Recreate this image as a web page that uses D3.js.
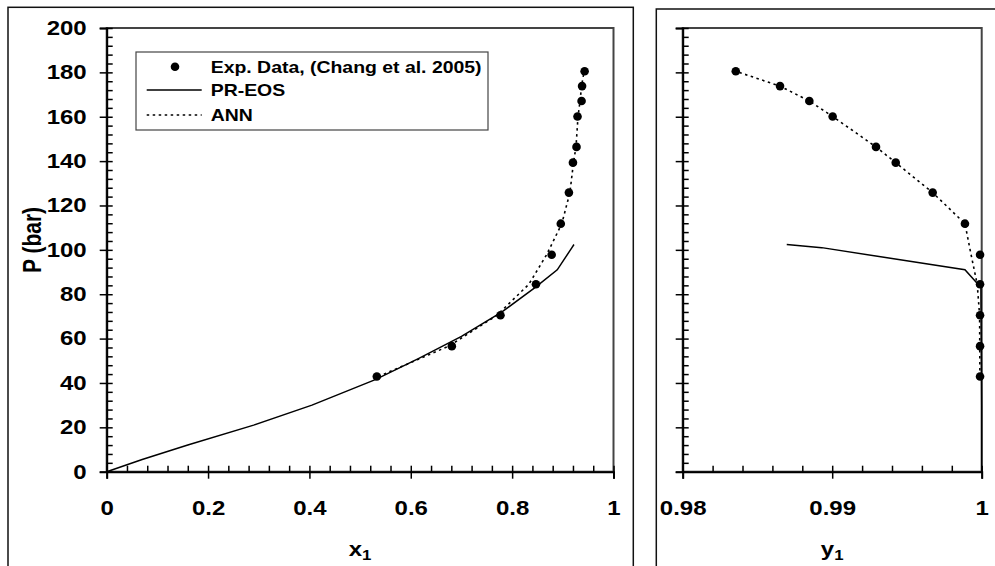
<!DOCTYPE html>
<html>
<head>
<meta charset="utf-8">
<script src="https://cdn.jsdelivr.net/npm/d3@7"></script>
<style>
  body { margin: 0; background: #fff; }
  svg { display: block; font-family: "Liberation Sans", Arial, sans-serif; font-weight: bold; }
</style>
</head>
<body>
<div class="chart-div"></div>
<script>
'use strict';

// Experimental data (Chang et al. 2005)
var expP  = [42.9, 56.6, 70.5, 84.5, 97.8, 111.8, 125.8, 139.3, 146.4, 160.1, 167.1, 173.8, 180.5];
var expX1 = [0.533, 0.681, 0.777, 0.847, 0.878, 0.896, 0.912, 0.920, 0.927, 0.929, 0.937, 0.938, 0.943];
var expY1 = [0.99989, 0.99989, 0.99989, 0.99989, 0.99989, 0.99888, 0.99672, 0.99425, 0.99293, 0.99003, 0.98847, 0.98651, 0.98355];

// ANN predictions at the same pressures
var annX1 = [0.536, 0.675, 0.770, 0.833, 0.868, 0.898, 0.914, 0.921, 0.926, 0.930, 0.934, 0.937, 0.942];
var annY1 = [0.99988, 0.99987, 0.99986, 0.99970, 0.99929, 0.99888, 0.99672, 0.99425, 0.99293, 0.99003, 0.98847, 0.98651, 0.98355];

// PR-EOS
var prP  = [0, 5.5, 12, 21, 30, 41.5, 51, 61, 72, 83, 91, 101, 102.4];
var prX1 = [0, 0.07, 0.16, 0.29, 0.405, 0.53, 0.615, 0.70, 0.78, 0.845, 0.889, 0.918, 0.922];
var prY1 = [1, 1, 1, 1, 1, 0.99999, 0.99998, 0.99997, 0.99996, 0.99995, 0.99888, 0.9893, 0.98696];

var pTicks = [0, 20, 40, 60, 80, 100, 120, 140, 160, 180, 200];
var x1Ticks = [0, 0.2, 0.4, 0.6, 0.8, 1];
var y1Ticks = [0.98, 0.99, 1];
var legendNames = ["Exp. Data, (Chang et al. 2005)", "PR-EOS", "ANN"];

var width = 995;
var height = 566;
var stretch = 1.2;   // the original picture is a bit wide
var dots = "2.5,3.5";

var yScale = d3.scaleLinear().domain([0, 200]).range([471.7, 28]);
var xLeft = d3.scaleLinear().domain([0, 1]).range([106.7, 613.5]);
var xRight = d3.scaleLinear().domain([0.98, 1]).range([682.7, 981.7]);

var svg = d3.select(".chart-div").append("svg")
    .attr("width", width)
    .attr("height", height);

function drawFrames() {
    svg.append("rect")
        .attr("x", 8).attr("y", 7.3)
        .attr("width", 625.3).attr("height", 600)
        .attr("fill", "none").attr("stroke", "#111").attr("stroke-width", 1.5);
    svg.append("rect")
        .attr("x", 656.3).attr("y", 9)
        .attr("width", 400).attr("height", 600)
        .attr("fill", "none").attr("stroke", "#111").attr("stroke-width", 1.5);
}

function drawPanel(xScale, xTicks, xFmt, showYLabels, xTitle) {
    var g = svg.append("g");
    var x0 = xScale.range()[0], x1 = xScale.range()[1];
    var y0 = yScale.range()[0], y1 = yScale.range()[1];

    g.append("rect")
        .attr("x", x0).attr("y", y1)
        .attr("width", x1 - x0).attr("height", y0 - y1)
        .attr("fill", "none").attr("stroke", "#444").attr("stroke-width", 2);

    // minor ticks, inside
    var yMinor = d3.range(0, 201, 4);
    g.append("g")
        .attr("transform", "translate(" + x0 + ",0)")
        .call(d3.axisRight(yScale).tickValues(yMinor).tickSize(6).tickFormat(""))
        .call(s => s.select(".domain").remove());
    var dom = xScale.domain();
    var step = (xTicks[1] - xTicks[0]) / 5;
    var xMinor = d3.range(0, Math.round((dom[1] - dom[0]) / step) + 1).map(i => dom[0] + i * step);
    g.append("g")
        .attr("transform", "translate(0," + y0 + ")")
        .call(d3.axisTop(xScale).tickValues(xMinor).tickSize(6).tickFormat(""))
        .call(s => s.select(".domain").remove());

    // major ticks, outside + labels
    var yAxis = g.append("g")
        .attr("transform", "translate(" + x0 + ",0)")
        .call(d3.axisLeft(yScale).tickValues(pTicks).tickSize(7)
            .tickFormat(showYLabels ? d3.format("d") : ""));
    yAxis.selectAll("text")
        .attr("x", -20 / stretch)
        .attr("transform", "scale(" + stretch + ",1)")
        .attr("font-size", "20px").attr("fill", "#000");

    var xAxis = g.append("g")
        .attr("transform", "translate(0," + y0 + ")")
        .call(d3.axisBottom(xScale).tickValues(xTicks).tickSize(7).tickFormat(xFmt));
    xAxis.selectAll("text")
        .attr("y", 29)
        .attr("transform", "scale(" + stretch + ",1)")
        .attr("font-size", "20px").attr("fill", "#000");

    g.selectAll(".domain").attr("stroke-width", 2).attr("stroke", "#000");
    g.selectAll(".tick line").attr("stroke-width", 1.5).attr("stroke", "#000");

    var title = g.append("text")
        .attr("transform", "translate(" + ((x0 + x1) / 2) + ",556) scale(" + stretch + ",1)")
        .attr("text-anchor", "middle")
        .attr("font-size", "20px");
    title.append("tspan").text(xTitle);
    title.append("tspan").text("1").attr("font-size", "14px").attr("dy", "4");
    return g;
}

function drawSeries(g, xScale, pr, ann, exp) {
    var line = d3.line().x(d => xScale(d[0])).y(d => yScale(d[1]));
    g.append("path")
        .datum(pr)
        .attr("d", line)
        .attr("fill", "none").attr("stroke", "#000").attr("stroke-width", 1.5);
    g.append("path")
        .datum(ann)
        .attr("d", line)
        .attr("fill", "none").attr("stroke", "#000").attr("stroke-width", 1.6)
        .attr("stroke-dasharray", dots);
    g.selectAll("circle.exp")
        .data(exp)
        .enter().append("circle")
        .attr("class", "exp")
        .attr("cx", d => xScale(d[0]))
        .attr("cy", d => yScale(d[1]))
        .attr("r", 4.3)
        .attr("fill", "#000");
}

function drawLegend() {
    var lg = svg.append("g");
    lg.append("rect")
        .attr("x", 136).attr("y", 52)
        .attr("width", 352).attr("height", 78)
        .attr("fill", "#fff").attr("stroke", "#444").attr("stroke-width", 1.2);
    var rows = [66.7, 90, 115];
    lg.append("circle").attr("cx", 175).attr("cy", rows[0]).attr("r", 4.3).attr("fill", "#000");
    lg.append("line")
        .attr("x1", 146.7).attr("x2", 201.7).attr("y1", rows[1]).attr("y2", rows[1])
        .attr("stroke", "#000").attr("stroke-width", 1.5);
    lg.append("line")
        .attr("x1", 146.7).attr("x2", 201.7).attr("y1", rows[2]).attr("y2", rows[2])
        .attr("stroke", "#000").attr("stroke-width", 1.6).attr("stroke-dasharray", dots);
    lg.selectAll("text.leg")
        .data(legendNames)
        .enter().append("text")
        .attr("class", "leg")
        .attr("transform", (d, i) => "translate(210.7," + rows[i] + ") scale(" + stretch + ",1)")
        .attr("dy", "0.36em")
        .attr("font-size", "16.2px")
        .text(d => d);
}

drawFrames();

var left = drawPanel(xLeft, x1Ticks, d3.format(""), true, "x");
var right = drawPanel(xRight, y1Ticks, d => d === 1 ? "1" : d3.format(".2f")(d), false, "y");

left.append("text")
    .attr("transform", "translate(41,240) scale(" + stretch + ",1) rotate(-90)")
    .attr("text-anchor", "middle")
    .attr("font-size", "21px")
    .text("P (bar)");

drawSeries(left, xLeft,
    prP.map((p, i) => [prX1[i], p]),
    expP.map((p, i) => [annX1[i], p]),
    expP.map((p, i) => [expX1[i], p]));
drawSeries(right, xRight,
    prP.map((p, i) => [prY1[i], p]),
    expP.map((p, i) => [annY1[i], p]),
    expP.map((p, i) => [expY1[i], p]));

drawLegend();
</script>
</body>
</html>
